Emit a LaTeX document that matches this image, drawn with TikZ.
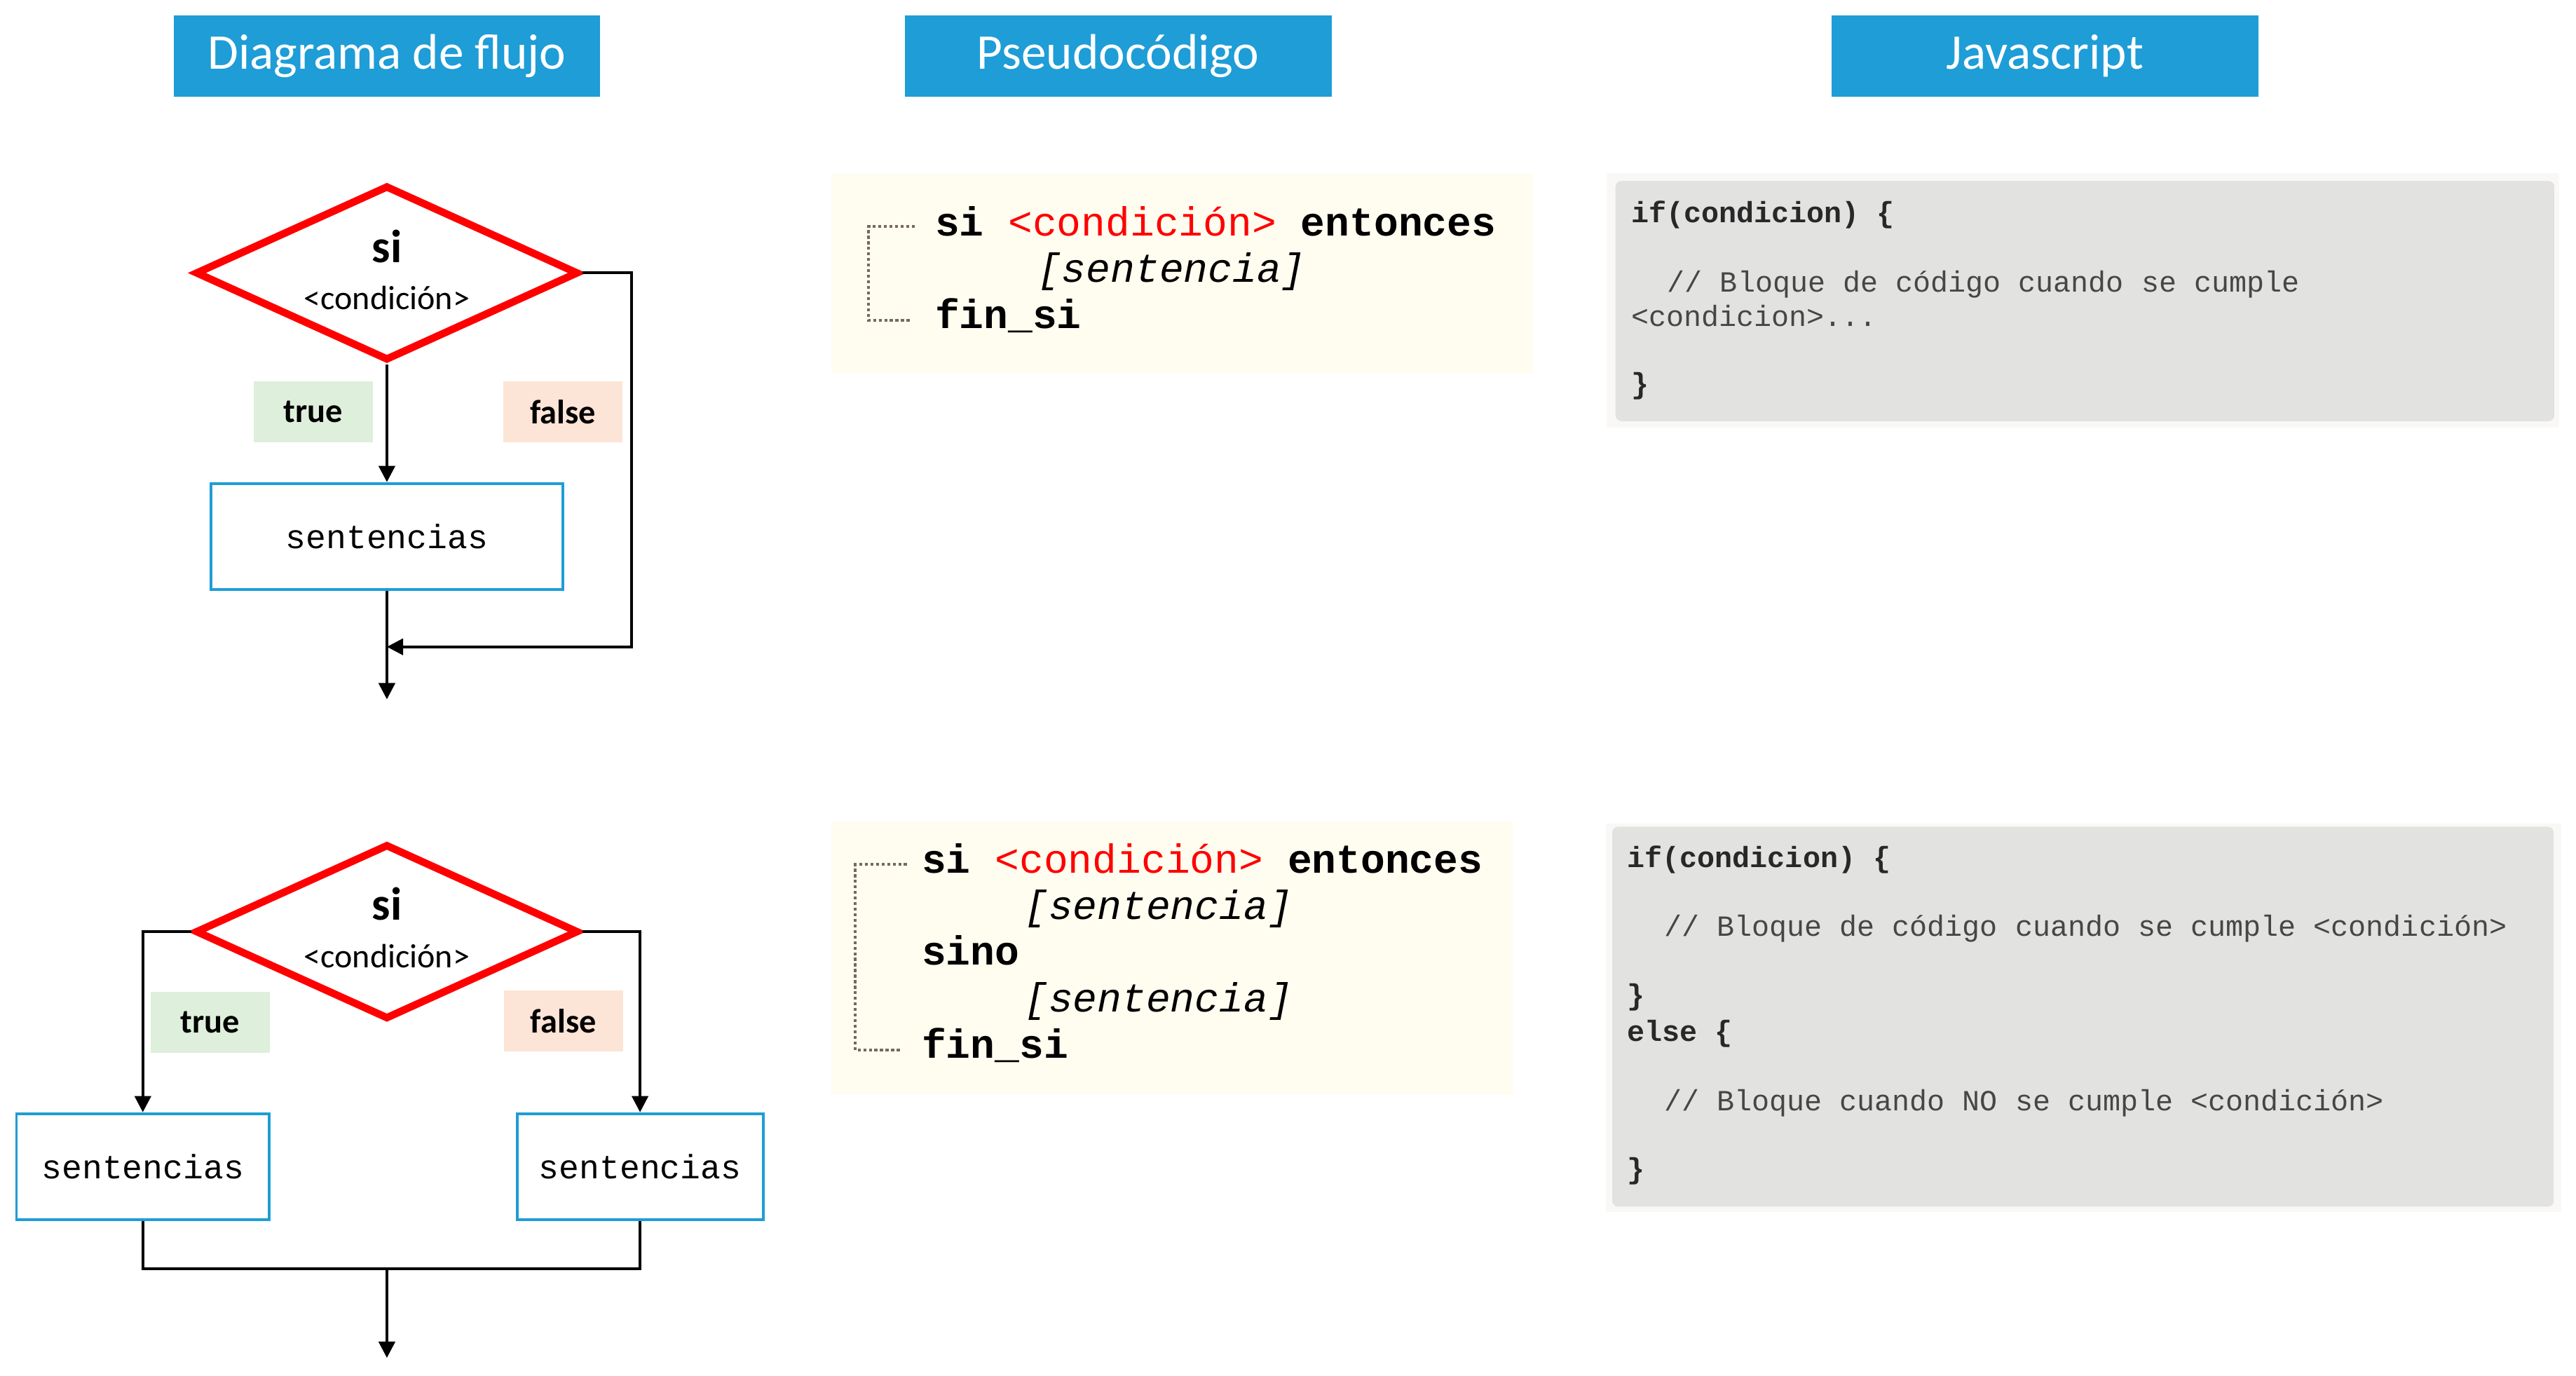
\documentclass[tikz,border=0pt]{standalone}
\usepackage{fontspec}
\setmainfont{Carlito}
\newfontfamily\codefont{Liberation Mono}
\usepackage{xcolor}
\usetikzlibrary{shapes,positioning,calc,arrows.meta}
\definecolor{hblue}{RGB}{30,157,215}
\definecolor{tgreen}{RGB}{222,239,219}
\definecolor{forange}{RGB}{252,228,214}
\definecolor{pcream}{RGB}{255,253,240}
\definecolor{brackgray}{RGB}{118,105,94}
\definecolor{jsgray}{RGB}{226,226,225}
\definecolor{jsfaint}{RGB}{249,248,246}
\definecolor{codedark}{RGB}{40,40,40}
\definecolor{codegray}{RGB}{70,70,70}

\begin{document}
\begin{tikzpicture}[x=0.025cm, y=-0.025cm,
    header/.style={fill=hblue, text=white, minimum width=6.46cm, minimum height=1.225cm, font=\fontsize{21.5}{26}\selectfont},
    cond/.style={diamond, draw=red, line width=3.2pt, minimum width=5.8cm, minimum height=2.65cm, inner sep=0pt},
    siword/.style={inner sep=0pt, font=\bfseries\fontsize{20}{23}\selectfont},
    condword/.style={inner sep=0pt, font=\fontsize{14.5}{17}\selectfont},
    tag/.style={minimum width=1.8cm, minimum height=0.925cm, font=\bfseries\fontsize{14.6}{17}\selectfont},
    truetag/.style={tag, fill=tgreen},
    falsetag/.style={tag, fill=forange},
    stmt/.style={draw=hblue, line width=1.2pt, minimum height=1.6cm, font=\codefont\fontsize{14.5}{17}\selectfont},
    flow/.style={draw, line width=1.2pt, -{Triangle[length=7pt,width=7pt]}},
    wire/.style={draw, line width=1.2pt},
    pseudo/.style={fill=pcream, inner sep=0pt},
    pline/.style={anchor=base west, inner sep=0pt, font=\codefont\fontsize{17.5}{20}\selectfont},
    pital/.style={pline, font=\codefont\itshape\fontsize{17.5}{20}\selectfont},
    bracket/.style={draw=brackgray, line width=1.3pt, dash pattern=on 1.3pt off 1.1pt},
    jsedge/.style={fill=jsfaint, inner sep=0pt},
    jsbox/.style={fill=jsgray, rounded corners=2.5pt, inner sep=0pt},
    jsline/.style={anchor=base west, inner sep=0pt, text=codedark, font=\codefont\bfseries\fontsize{12.6}{15}\selectfont},
    jscomment/.style={jsline, text=codegray, font=\codefont\fontsize{12.6}{15}\selectfont}
]
\useasboundingbox (0,0) rectangle (1560,833);

% column titles
\foreach \lab/\x [count=\c] in {Diagrama de flujo/234.3, Pseudocódigo/677.1, Javascript/1238.4} {
    \node[header] (head\c) at (\x,33.9) {\lab};
}

% --- si ... entonces
\node[cond] (d1) at (234.3,165.3) {};
\node[siword] (si1) at (234.3,149.2) {si};
\node[condword] (c1) at (234.3,180.5) {<condición>};
\node[truetag] (t1) at (189.7,249.3) {true};
\node[falsetag] (f1) at (341,249.3) {false};
\node[stmt, minimum width=5.32cm] (s1) at (234.3,324.8) {sentencias};
\coordinate (r1) at (382.6,391.7);
\coordinate (j1) at (234.3,391.7);
\coordinate (e1) at (234.3,423.5);

\draw[flow] (d1.south) -- (s1.north);
\draw[flow] (d1.east) -| (r1) -- (j1);
\draw[flow] (s1.south) -- (e1);

\node[pseudo, minimum width=10.62cm, minimum height=3.03cm] (pbox1) at (716,165.8) {};
\coordinate (pa1) at (554,137);
\coordinate (pb1) at (551,194);
\draw[bracket] (pa1) -| (526,194) -- (pb1);
\node[pline] (p1a) at (566,142.9) {\bfseries si \textcolor{red}{\mdseries <condición>} entonces};
\node[pital] (p1b) at (628,170.9) {[sentencia]};
\node[pline] (p1c) at (566,198.8) {\bfseries fin\_si};

\node[jsedge, minimum width=14.42cm, minimum height=3.85cm] (jsf1) at (1261.4,182) {};
\node[jsbox, minimum width=14.21cm, minimum height=3.635cm] (jsb1) at (1262.6,182.3) {};
\node[jsline] (js1a) at (987.5,134.7) {if(condicion) \{};
\node[jscomment] (js1b) at (1009.5,176.6) {// Bloque de código cuando se cumple};
\node[jscomment] (js1c) at (987.5,197.4) {<condicion>...};
\node[jsline] (js1d) at (987.5,238.4) {\}};

% --- si ... sino
\node[cond] (d2) at (234.3,564.2) {};
\node[siword] (si2) at (234.3,547.5) {si};
\node[condword] (c2) at (234.3,578.8) {<condición>};
\node[truetag] (t2) at (127.3,619.1) {true};
\node[falsetag] (f2) at (341.2,618.3) {false};
\node[stmt, minimum width=3.825cm] (s2) at (86.5,706.4) {sentencias};
\node[stmt, minimum width=3.725cm] (s3) at (387.6,706.4) {sentencias};
\coordinate (j2) at (234.3,768.4);
\coordinate (e2) at (234.3,822.3);

\draw[flow] (d2.west) -| (s2.north);
\draw[flow] (d2.east) -| (s3.north);
\draw[wire] (s2.south) |- (j2) -| (s3.south);
\draw[flow] (j2) -- (e2);

\node[pseudo, minimum width=10.31cm, minimum height=4.13cm] (pbox2) at (709.8,580.3) {};
\coordinate (pa2) at (549.2,523.5);
\coordinate (pb2) at (546.2,636);
\draw[bracket] (pa2) -| (518,636) -- (pb2);
\node[pline] (p2a) at (558,528.5) {\bfseries si \textcolor{red}{\mdseries <condición>} entonces};
\node[pital] (p2b) at (620,556.8) {[sentencia]};
\node[pline] (p2c) at (558,584.4) {\bfseries sino};
\node[pital] (p2d) at (620,612.7) {[sentencia]};
\node[pline] (p2e) at (558,640.7) {\bfseries fin\_si};

\node[jsedge, minimum width=14.46cm, minimum height=5.885cm] (jsf2) at (1261.8,616.3) {};
\node[jsbox, minimum width=14.25cm, minimum height=5.75cm] (jsb2) at (1261.4,615.7) {};
\node[jsline] (js2a) at (985.2,525.4) {if(condicion) \{};
\node[jscomment] (js2b) at (1007.5,567) {// Bloque de código cuando se cumple <condición>};
\node[jsline] (js2c) at (985.2,608.7) {\}};
\node[jsline] (js2d) at (985.2,630.5) {else \{};
\node[jscomment] (js2e) at (1007.5,672.4) {// Bloque cuando NO se cumple <condición>};
\node[jsline] (js2f) at (985.2,713.9) {\}};

\end{tikzpicture}
\end{document}
